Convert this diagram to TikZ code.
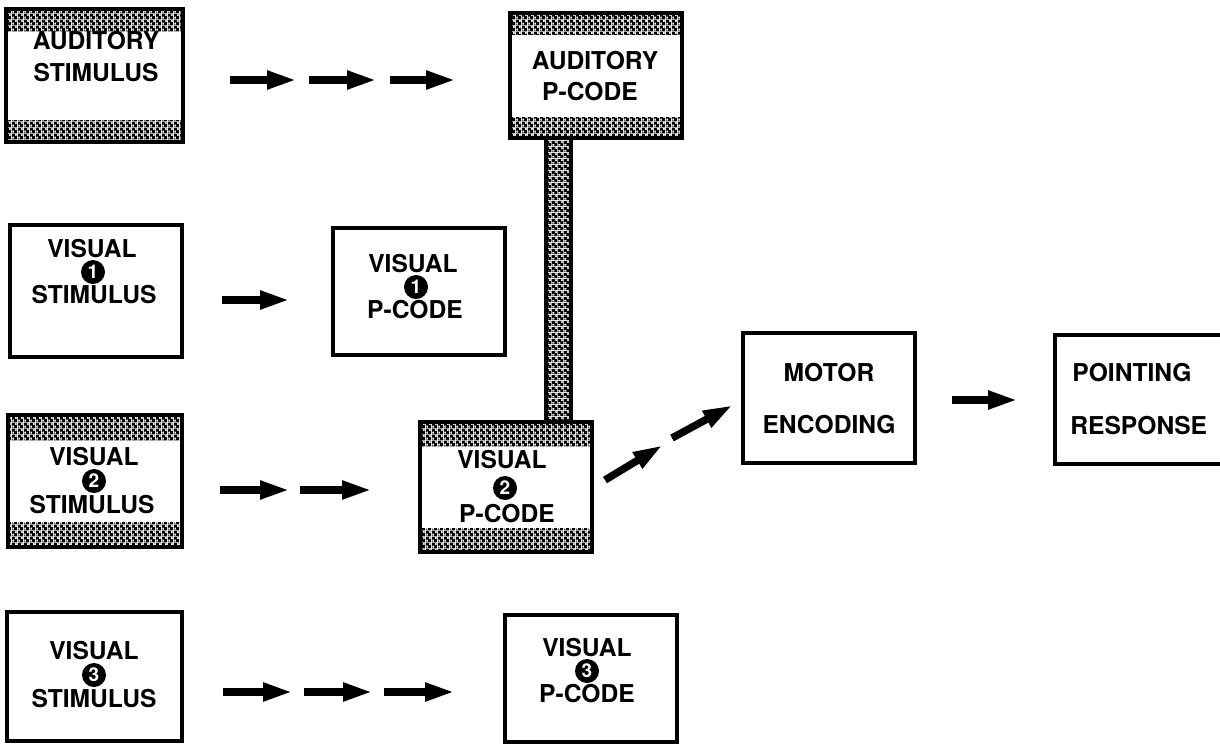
\documentclass[tikz,border=0pt]{standalone}
\usepackage{fontspec}
\setmainfont{TeX Gyre Heros}
\usetikzlibrary{arrows.meta,patterns.meta}
\tikzdeclarepattern{name=chk, type=uncolored,
  bottom left={(0pt,0pt)}, top right={(3pt,3pt)}, tile size={(3pt,3pt)},
  code={\fill[even odd rule] (0pt,0pt) rectangle (3pt,3pt)
          (0.2pt,0.2pt) rectangle (1.3pt,1.3pt)
          (1.7pt,1.7pt) rectangle (2.8pt,2.8pt);}}
\begin{document}
\begin{tikzpicture}[x=0.5pt,y=-0.5pt,
  box/.style={draw,line width=1.8pt,rectangle,inner sep=0pt},
  hatched/.style={path picture={
    \fill[pattern=chk,pattern color=black] (path picture bounding box.north west) rectangle ([yshift=-#1]path picture bounding box.north east);
    \fill[pattern=chk,pattern color=black] (path picture bounding box.south west) rectangle ([yshift=#1]path picture bounding box.south east);}},
  hatched/.default=11pt,
  lbl/.style={font=\bfseries\fontsize{12.3pt}{12pt}\selectfont,inner sep=0pt,text height=8.8pt,text depth=0pt},
  num/.style={circle,fill=black,text=white,inner sep=0pt,minimum size=12pt,font=\bfseries\fontsize{9.5pt}{9.5pt}\selectfont},
  arr/.style={line width=3.75pt,-{Triangle[length=15pt,width=8.5pt]}},
  bar/.style={draw,line width=1.8pt,pattern=chk,pattern color=black},
]
\useasboundingbox (0,0) rectangle (1220,745);

% boxes
\node[box,hatched,minimum width=88.5pt,minimum height=66.5pt] (AS) at (94.5,75.5) {};
\node[box,hatched=10.5pt,minimum width=86pt,minimum height=62.5pt] (AP) at (596,75.5) {};
\node[box,minimum width=86pt,minimum height=66pt] (V1S) at (96,291) {};
\node[box,minimum width=86pt,minimum height=63.5pt] (V1P) at (419,291.5) {};
\node[box,hatched=12.5pt,minimum width=87pt,minimum height=66pt] (V2S) at (95,481) {};
\node[box,hatched=12pt,minimum width=86pt,minimum height=65pt] (V2P) at (506,487) {};
\node[box,minimum width=87.5pt,minimum height=64.5pt] (V3S) at (94.5,676.5) {};
\node[box,minimum width=86pt,minimum height=63.5pt] (V3P) at (591,678.5) {};
\node[box,minimum width=86pt,minimum height=65pt] (MO) at (829,398) {};
\node[box,minimum width=85pt,minimum height=64.5pt] (PR) at (1140,399.5) {};

% link bar between auditory and visual 2 p-codes
\draw[bar] (546,138) rectangle (571,422);

% labels
\node[lbl] (ASa) at (96,41) {AUDITORY};
\node[lbl] (ASb) at (96,73) {STIMULUS};
\node[lbl] (APa) at (595,61) {AUDITORY};
\node[lbl] (APb) at (590,92) {P-CODE};

\node[lbl] (V1Sa) at (92,249) {VISUAL};
\node[num] (V1Sn) at (93,272) {1};
\node[lbl] (V1Sb) at (94,295) {STIMULUS};
\node[lbl] (V1Pa) at (413,264) {VISUAL};
\node[num] (V1Pn) at (416,287) {1};
\node[lbl] (V1Pb) at (415,310) {P-CODE};

\node[lbl] (V2Sa) at (94,457) {VISUAL};
\node[num] (V2Sn) at (94,481) {2};
\node[lbl] (V2Sb) at (92,505) {STIMULUS};
\node[lbl] (V2Pa) at (502,460) {VISUAL};
\node[num] (V2Pn) at (505,488) {2};
\node[lbl] (V2Pb) at (507,514) {P-CODE};

\node[lbl] (V3Sa) at (94,651) {VISUAL};
\node[num] (V3Sn) at (94,675) {3};
\node[lbl] (V3Sb) at (94,699) {STIMULUS};
\node[lbl] (V3Pa) at (587,648) {VISUAL};
\node[num] (V3Pn) at (587,671) {3};
\node[lbl] (V3Pb) at (587,694) {P-CODE};

\node[lbl] (MOa) at (829,373) {MOTOR};
\node[lbl] (MOb) at (829,425) {ENCODING};
\node[lbl,anchor=west] (PRa) at (1072,373) {POINTING};
\node[lbl,anchor=west] (PRb) at (1070,426) {RESPONSE};

% arrow coordinates
\coordinate (a1) at (230,80);  \coordinate (a2) at (297,80);
\coordinate (a3) at (309,80);  \coordinate (a4) at (377,80);
\coordinate (a5) at (390,80);  \coordinate (a6) at (456,80);
\coordinate (b1) at (222,300); \coordinate (b2) at (290,300);
\coordinate (c1) at (220,490); \coordinate (c2) at (290,490);
\coordinate (c3) at (300,490); \coordinate (c4) at (372,490);
\coordinate (d1) at (223,692); \coordinate (d2) at (293,692);
\coordinate (d3) at (304,692); \coordinate (d4) at (373,692);
\coordinate (d5) at (384,692); \coordinate (d6) at (455,692);
\coordinate (e1) at (605,480); \coordinate (e2) at (663,445);
\coordinate (e3) at (672,438); \coordinate (e4) at (733,405);
\coordinate (f1) at (952,400); \coordinate (f2) at (1018,400);

\draw[arr] (a1) -- (a2);
\draw[arr] (a3) -- (a4);
\draw[arr] (a5) -- (a6);
\draw[arr] (b1) -- (b2);
\draw[arr] (c1) -- (c2);
\draw[arr] (c3) -- (c4);
\draw[arr] (d1) -- (d2);
\draw[arr] (d3) -- (d4);
\draw[arr] (d5) -- (d6);
\draw[arr] (e1) -- (e2);
\draw[arr] (e3) -- (e4);
\draw[arr] (f1) -- (f2);
\end{tikzpicture}
\end{document}
